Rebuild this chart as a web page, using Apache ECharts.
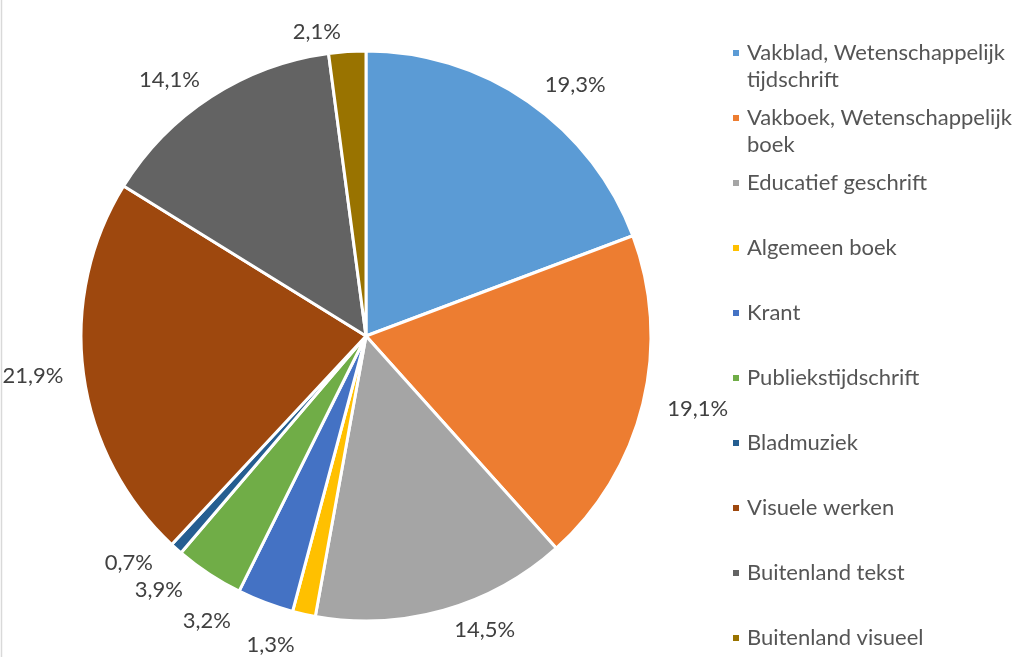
<!DOCTYPE html>
<html>
<head>
<meta charset="utf-8">
<script src="https://cdn.jsdelivr.net/npm/echarts@6/dist/echarts.min.js"></script>
<style>html,body{margin:0;padding:0;background:#fff}#c{width:1022px;height:657px}</style>
</head>
<body>
<div id="c"></div>
<script>
const categories = ["Vakblad, Wetenschappelijk tijdschrift","Vakboek, Wetenschappelijk boek","Educatief geschrift","Algemeen boek","Krant","Publiekstijdschrift","Bladmuziek","Visuele werken","Buitenland tekst","Buitenland visueel"];
const legendLines = [["Vakblad, Wetenschappelijk","tijdschrift"],["Vakboek, Wetenschappelijk","boek"],["Educatief geschrift"],["Algemeen boek"],["Krant"],["Publiekstijdschrift"],["Bladmuziek"],["Visuele werken"],["Buitenland tekst"],["Buitenland visueel"]];
const values = [19.3,19.1,14.5,1.3,3.2,3.9,0.7,21.9,14.1,2.1];
const colors = ["#5B9BD5","#ED7D31","#A5A5A5","#FFC000","#4472C4","#70AD47","#255E91","#9E480E","#636363","#997300"];

const FONT = "Lato";
const FS = 22;
const LH = 27;
const legends = categories.map((n,i)=>{
  const lines = legendLines[i];
  const nLines = lines.length > 1 ? 3 : 1;
  const firstCenter = 53 + i*65;
  return {
    data:[n], orient:'vertical', left:726, top: firstCenter - nLines*LH/2 - 5,
    itemWidth:8, itemHeight:8, icon:'rect', itemGap:0, padding:5, selectedMode:false,
    textStyle:{fontFamily:FONT, fontSize:FS, color:'#555555', lineHeight:LH, padding:[0,0,0,2]},
    formatter: ()=> lines.length>1 ? (' \n'+lines.join('\n')) : lines[0]
  };
});

const chart = echarts.init(document.getElementById('c'));
chart.setOption({
  animation:false,
  color: colors,
  legend: legends,
  graphic:[{type:'line', shape:{x1:1.5,y1:0,x2:1.5,y2:657}, style:{stroke:'#d9d9d9', lineWidth:1.5}}],
  series:[{
    type:'pie', center:[366,336], radius:285, startAngle:90, clockwise:true,
    avoidLabelOverlap:true,
    itemStyle:{borderColor:'#fff', borderWidth:3},
    label:{show:true, position:'outside', fontFamily:FONT, fontSize:FS, color:'#404040', overflow:'none',
      formatter:(p)=> p.value.toFixed(1).replace('.',',')+'%'},
    labelLine:{show:false, length:20, length2:0},
    data: categories.map((n,i)=>({name:n, value:values[i]}))
  }]
});
</script>
</body>
</html>
